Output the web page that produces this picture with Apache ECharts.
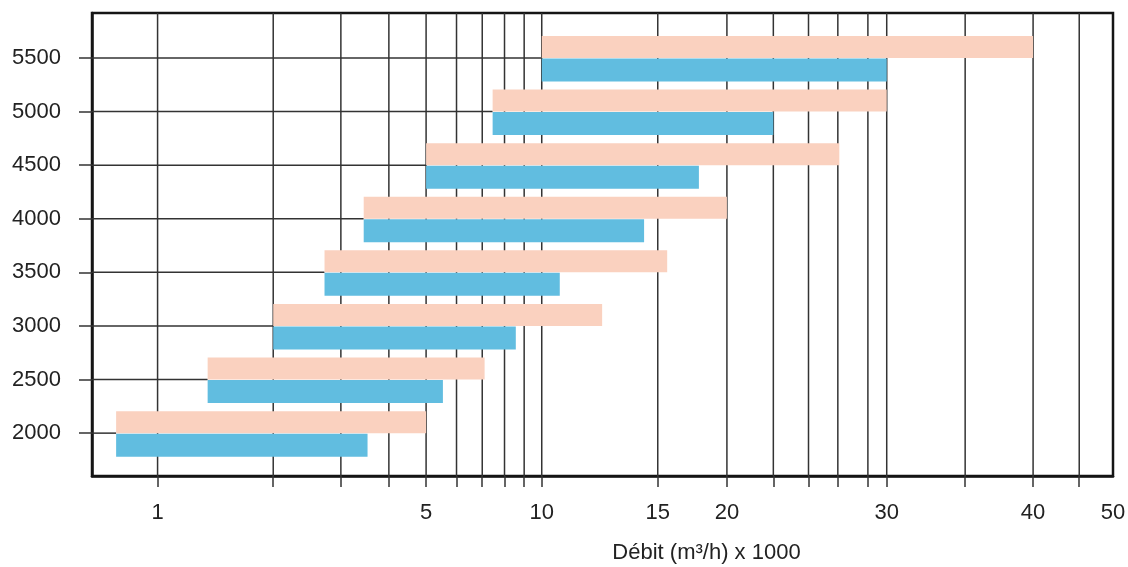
<!DOCTYPE html>
<html><head><meta charset="utf-8">
<script src="https://cdn.jsdelivr.net/npm/echarts@6/dist/echarts.min.js"></script>
<style>html,body{margin:0;padding:0;background:#fff}#c{width:1128px;height:567px}</style>
</head><body><div id="c"></div>
<script>
// ---- data (flow in m3/h x 1000) ----
const CATEGORIES = [2000, 2500, 3000, 3500, 4000, 4500, 5000, 5500];
const FLOW_MIN = [0.78, 1.35, 2, 2.72, 3.44, 5, 7.45, 10];
const FLOW_MAX_UPPER = [5, 7.1, 12.35, 15.6, 20, 26.6, 30, 40];
const FLOW_MAX_LOWER = [3.52, 5.53, 8.56, 10.65, 14.3, 17.8, 22.5, 30];
const X_TICK_LABELS = [1, 5, 10, 15, 20, 30, 40, 50];
const X_GRID_VALUES = [1, 2, 3, 4, 5, 6, 7, 8, 9, 10, 15, 20, 22.5, 24.6, 26.5, 28.6, 30, 35, 40, 45.5];
const X_MIN_VALUE = 0.675, X_MAX_VALUE = 50;
const Y_MIN = 1600, Y_MAX = 5920;
// ---- axis calibration of the (non-uniform) logarithmic flow scale ----
const X_ANCHOR_VALUES = [1, 10, 15, 20, 30, 40, 50];
const X_ANCHOR_DECADES = [0, 1, 1.302, 1.482, 1.898, 2.279, 2.487];

function warp(v) {
  const lv = Math.log10(v);
  let i = 0;
  while (i < X_ANCHOR_VALUES.length - 2 && v > X_ANCHOR_VALUES[i + 1]) i++;
  const l0 = Math.log10(X_ANCHOR_VALUES[i]), l1 = Math.log10(X_ANCHOR_VALUES[i + 1]);
  return X_ANCHOR_DECADES[i] + (lv - l0) / (l1 - l0) * (X_ANCHOR_DECADES[i + 1] - X_ANCHOR_DECADES[i]);
}

const FONT = "'Liberation Sans', Arial, sans-serif";
const PINK = '#fad1bf', BLUE = '#61bde0', LINE = '#333333';
const BAR_H = 22;

const chart = echarts.init(document.getElementById('c'), null, {renderer: 'canvas'});
const xMin = warp(X_MIN_VALUE), xMax = warp(X_MAX_VALUE);

const upperData = CATEGORIES.map((c, i) => [warp(FLOW_MIN[i]), warp(FLOW_MAX_UPPER[i]), c]);
const lowerData = CATEGORIES.map((c, i) => [warp(FLOW_MIN[i]), warp(FLOW_MAX_LOWER[i]), c]);

chart.setOption({
  animation: false,
  grid: {left: 92, right: 15, top: 13, bottom: 91, outerBoundsMode: 'none', containLabel: false,
         show: true, borderColor: '#151515', borderWidth: 2.5},
  xAxis: {
    type: 'value', min: xMin, max: xMax,
    axisLine: {show: true, onZero: false, lineStyle: {color: '#151515', width: 2.5}},
    splitLine: {show: false},
    axisTick: {show: true, customValues: X_GRID_VALUES.map(warp), length: 11, lineStyle: {color: LINE, width: 1.5}},
    axisLabel: {
      customValues: X_TICK_LABELS.map(warp), hideOverlap: false, showMaxLabel: true, showMinLabel: true,
      margin: 26, color: '#222', fontSize: 22, fontFamily: FONT,
      formatter: (val) => { const t = X_TICK_LABELS.find(t => Math.abs(warp(t) - val) < 1e-6); return t === undefined ? '' : String(t); }
    },
    name: 'Débit (m³/h) x 1000', nameLocation: 'middle', nameGap: 66,
    nameTextStyle: {color: '#222', fontSize: 22, fontFamily: FONT, padding: [0, 0, 0, 208]}
  },
  yAxis: {
    type: 'value', min: Y_MIN, max: Y_MAX,
    axisLine: {show: true, onZero: false, lineStyle: {color: '#151515', width: 2.5}},
    splitLine: {show: false},
    axisTick: {show: true, customValues: CATEGORIES, length: 13, lineStyle: {color: LINE, width: 1.5}},
    axisLabel: {customValues: CATEGORIES, margin: 31, color: '#222', fontSize: 22, fontFamily: FONT,
                formatter: (v) => String(v)}
  },
  series: [
    {
      type: 'custom', silent: true, z: 1,
      data: X_GRID_VALUES.map(v => [warp(v), Y_MIN]),
      encode: {x: 0, y: 1},
      renderItem: (params, api) => {
        const x = api.value(0);
        const p1 = api.coord([x, Y_MIN]), p2 = api.coord([x, Y_MAX]);
        return {type: 'line', shape: {x1: p1[0], y1: p1[1], x2: p2[0], y2: p2[1]}, style: {stroke: LINE, lineWidth: 1.5}};
      }
    },
    {
      type: 'custom', name: 'upper', silent: true, z: 3,
      data: upperData, encode: {x: [0, 1], y: 2},
      renderItem: (params, api) => {
        const a = api.coord([api.value(0), api.value(2)]);
        const b = api.coord([api.value(1), api.value(2)]);
        const l = api.coord([xMin, api.value(2)]);
        return {type: 'group', children: [
          {type: 'line', shape: {x1: l[0], y1: a[1], x2: a[0], y2: a[1]}, style: {stroke: LINE, lineWidth: 1.5}},
          {type: 'rect', shape: {x: a[0], y: a[1] - BAR_H, width: b[0] - a[0], height: BAR_H}, style: {fill: PINK}}
        ]};
      }
    },
    {
      type: 'custom', name: 'lower', silent: true, z: 3,
      data: lowerData, encode: {x: [0, 1], y: 2},
      renderItem: (params, api) => {
        const a = api.coord([api.value(0), api.value(2)]);
        const b = api.coord([api.value(1), api.value(2)]);
        return {type: 'rect', shape: {x: a[0], y: a[1] + 0.5, width: b[0] - a[0], height: BAR_H + 1}, style: {fill: BLUE}};
      }
    }
  ]
});
</script></body></html>
